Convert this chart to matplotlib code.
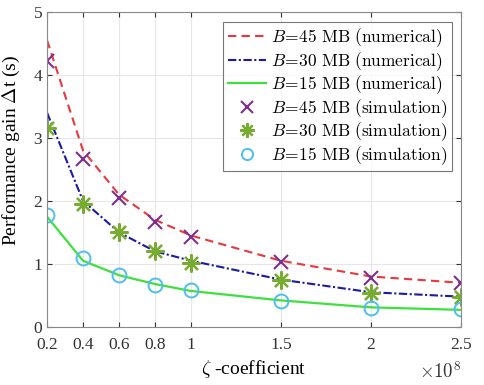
import numpy as np
from matplotlib import pyplot as plt

plt.rcParams['font.family'] = 'Liberation Serif'
plt.rcParams['mathtext.fontset'] = 'cm'

zeta = [0.2, 0.4, 0.6, 0.8, 1.0, 1.5, 2.0, 2.5]
num45 = [4.55, 2.80, 2.10, 1.70, 1.45, 1.05, 0.80, 0.70]
num30 = [3.40, 2.00, 1.50, 1.20, 1.05, 0.75, 0.55, 0.48]
num15 = [1.75, 1.05, 0.82, 0.68, 0.57, 0.42, 0.31, 0.27]
sim45 = [4.22, 2.67, 2.05, 1.67, 1.42, 1.03, 0.78, 0.70]
sim30 = [3.15, 1.95, 1.50, 1.20, 1.02, 0.75, 0.54, 0.48]
sim15 = [1.78, 1.10, 0.83, 0.66, 0.58, 0.41, 0.30, 0.28]
xticks = [0.2, 0.4, 0.6, 0.8, 1, 1.5, 2, 2.5]
xticklabels = ['0.2', '0.4', '0.6', '0.8', '1', '1.5', '2', '2.5']

fig = plt.figure(figsize=(4.85, 3.85), dpi=100)
ax = fig.add_axes([0.097, 0.151, 0.853, 0.818])

ax.plot(zeta, num45, '--', color='#e8383d', lw=1.5, dashes=(4, 2.5),
        label=r'$B\!=\!45\ \mathrm{MB\ (numerical)}$')
ax.plot(zeta, num30, '-.', color='#1a1aa6', lw=1.5, dashes=(4, 1.2, 1, 1.2),
        label=r'$B\!=\!30\ \mathrm{MB\ (numerical)}$')
ax.plot(zeta, num15, '-', color='#3ee03e', lw=1.6, label=r'$B\!=\!15\ \mathrm{MB\ (numerical)}$')
ax.plot(zeta, sim45, 'x', color='#7e2f8e', ms=10, mew=1.5, ls='none',
        label=r'$B\!=\!45\ \mathrm{MB\ (simulation)}$')
ax.plot(zeta, sim30, marker=(8, 2, 0), color='#77ac30', ms=13, mew=1.6, ls='none',
        label=r'$B\!=\!30\ \mathrm{MB\ (simulation)}$')
ax.plot(zeta, sim15, 'o', mfc='none', mec='#4dbeee', ms=10, mew=1.4, ls='none',
        label=r'$B\!=\!15\ \mathrm{MB\ (simulation)}$')

ax.set_xlim(0.2, 2.5)
ax.set_ylim(0, 5)
ax.set_xticks(xticks)
ax.set_xticklabels(xticklabels)
ax.set_yticks([0, 1, 2, 3, 4, 5])
ax.tick_params(direction='in', top=True, right=True, labelsize=12.5, colors='#333333')
ax.tick_params(axis='x', pad=7)
ax.grid(True, color='#e6e6e6', lw=0.8)
for s in ax.spines.values():
    s.set_color('#888888')

ax.set_xlabel(r'$\zeta$ -coefficient', fontsize=14)
ax.xaxis.set_label_coords(0.5, -0.1)
ax.set_ylabel(r'Performance gain $\Delta$t (s)', fontsize=14)
ax.yaxis.set_label_coords(-0.06, 0.56)
ax.text(1.0, -0.11, r'$\times10^8$', transform=ax.transAxes, ha='right', va='top', fontsize=13.5, color='#333333')

leg = ax.legend(loc='upper right', bbox_to_anchor=(0.978, 0.968), borderaxespad=0, fontsize=12.5,
                fancybox=False, edgecolor='#555555', handlelength=2.2, borderpad=0.25,
                labelspacing=0.05, handletextpad=0.3, markerscale=0.8)
leg.get_frame().set_linewidth(0.8)

fig.savefig('out.png', dpi=100)
